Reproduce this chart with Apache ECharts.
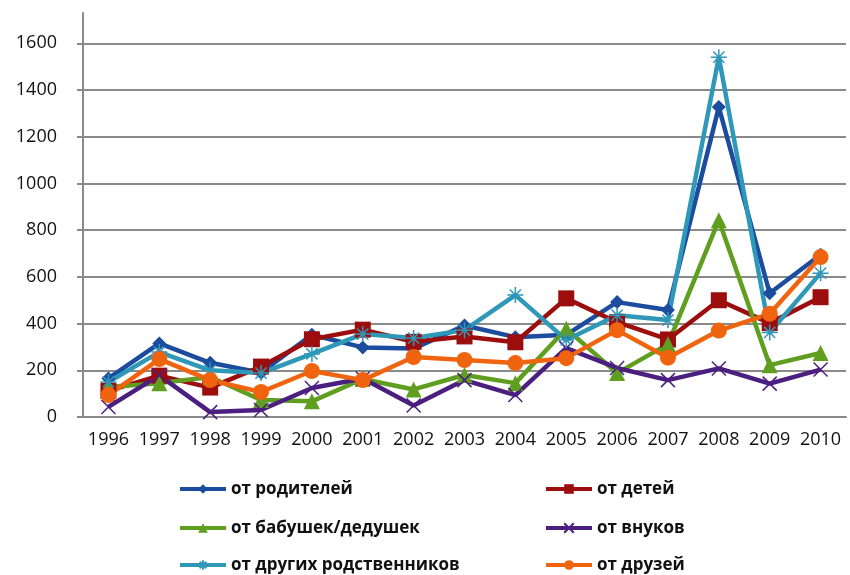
<!DOCTYPE html>
<html>
<head>
<meta charset="utf-8">
<script src="https://cdn.jsdelivr.net/npm/echarts@6/dist/echarts.min.js"></script>
<style>
  html, body { margin: 0; padding: 0; background: #fff; }
  #main { width: 850px; height: 575px; }
</style>
</head>
<body>
<div id="main"></div>
<script>
  var years = ['1996', '1997', '1998', '1999', '2000', '2001', '2002', '2003', '2004', '2005', '2006', '2007', '2008', '2009', '2010'];
  var yTicks = [0, 200, 400, 600, 800, 1000, 1200, 1400, 1600];

  var parents      = [165, 315, 232, 190, 352, 298, 293, 392, 342, 352, 492, 458, 1327, 530, 695];
  var children     = [112, 177, 126, 216, 333, 374, 322, 345, 320, 508, 406, 332, 500, 402, 513];
  var grandparents = [128, 145, 171, 73, 67, 163, 118, 180, 145, 378, 188, 312, 843, 222, 274];
  var grandchildren = [43, 178, 21, 30, 124, 165, 49, 158, 94, 295, 210, 158, 208, 143, 203];
  var relatives    = [150, 278, 200, 188, 270, 355, 338, 372, 522, 330, 436, 415, 1541, 362, 616];
  var friends      = [94, 248, 158, 107, 197, 158, 257, 244, 231, 252, 372, 254, 370, 442, 685];

  var names = ['от родителей', 'от детей', 'от бабушек/дедушек', 'от внуков', 'от других родственников', 'от друзей'];

  var xMark = 'path://M0,0L10,10M10,0L0,10';
  var starMark = 'path://M0,5L10,5M5,0L5,10M1.5,1.5L8.5,8.5M8.5,1.5L1.5,8.5';

  function line(name, data, color, symbol, size, stroke) {
    return {
      name: name,
      type: 'line',
      data: data,
      symbol: symbol,
      symbolSize: size,
      lineStyle: { color: color, width: 4.5 },
      itemStyle: { color: color, borderColor: color, borderWidth: stroke || 0 },
      emphasis: { disabled: true },
      z: 2
    };
  }

  // legend: 2 columns x 3 rows, one small legend per entry
  var legCols = [173, 539];
  var legRows = [474, 513, 550];
  var legends = names.map(function (n, i) {
    return {
      data: [n],
      left: legCols[i % 2],
      top: legRows[Math.floor(i / 2)],
      itemWidth: 46, itemHeight: 12,
      lineStyle: { width: 4 },
      textStyle: { fontSize: 17, fontWeight: 'bold', color: '#111', lineHeight: 20 }
    };
  });

  var chart = echarts.init(document.getElementById('main'));
  chart.setOption({
    animation: false,
    textStyle: { fontFamily: 'Open Sans' },
    grid: { left: 83, right: 4, top: 13, bottom: 158 },
    legend: legends,
    xAxis: {
      type: 'category',
      data: years,
      boundaryGap: true,
      axisLine: { lineStyle: { color: '#8a8a8a', width: 2 } },
      axisTick: { length: 6, lineStyle: { color: '#8a8a8a', width: 2 } },
      axisLabel: { fontSize: 18, color: '#111', margin: 14, interval: 0 }
    },
    yAxis: {
      type: 'value',
      min: yTicks[0],
      max: 1730,
      interval: 200,
      axisLine: { show: true, lineStyle: { color: '#8a8a8a', width: 2 } },
      axisTick: { show: true, length: 6, lineStyle: { color: '#8a8a8a', width: 2 } },
      axisLabel: {
        fontSize: 18, color: '#111', margin: 26, showMaxLabel: false,
        formatter: function (v) { return String(v); }
      },
      splitLine: { show: true, showMaxLine: false, lineStyle: { color: '#8a8a8a', width: 2 } }
    },
    series: [
      line(names[0], parents, '#1b4c9e', 'diamond', 14),
      line(names[1], children, '#9c0e0e', 'rect', 16),
      line(names[2], grandparents, '#5f9e1f', 'triangle', 16),
      line(names[3], grandchildren, '#4a1f80', xMark, 14, 1.5),
      line(names[4], relatives, '#2f98b8', starMark, 16, 1.5),
      line(names[5], friends, '#f0640f', 'circle', 16)
    ]
  });
</script>
</body>
</html>
